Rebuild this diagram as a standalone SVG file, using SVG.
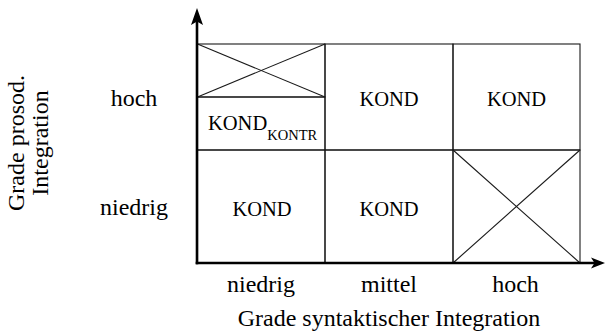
<svg xmlns="http://www.w3.org/2000/svg" width="605" height="333" viewBox="0 0 605 333">
<style>
.cell{fill:none;stroke:#1a1a1a;stroke-width:1.1}
.x{stroke:#1a1a1a;stroke-width:1.1}
text{font-family:"Liberation Serif","Times New Roman",serif;fill:#000}
.t{text-anchor:middle}
.k{font-size:20.5px}
.l{font-size:24px}
.axis{stroke:#000;stroke-width:2.6;fill:none}
</style>
<rect width="605" height="333" fill="#fff"/>
<g id="cell-hoch-niedrig-x">
<rect class="cell" x="197.5" y="44" width="127.5" height="53"/>
<line class="x" x1="197.5" y1="44" x2="325" y2="97"/>
<line class="x" x1="197.5" y1="97" x2="325" y2="44"/>
</g>
<g id="cell-hoch-niedrig">
<rect class="cell" x="197.5" y="97" width="127.5" height="53"/>
<text class="k" x="208" y="130">KOND<tspan font-size="14.5" dy="10">KONTR</tspan></text>
</g>
<g id="cell-hoch-mittel">
<rect class="cell" x="325" y="44" width="128" height="106"/>
<text class="t k" x="389" y="105.5">KOND</text>
</g>
<g id="cell-hoch-hoch">
<rect class="cell" x="453" y="44" width="127" height="106"/>
<text class="t k" x="516.5" y="105.5">KOND</text>
</g>
<g id="cell-niedrig-niedrig">
<rect class="cell" x="197.5" y="150" width="127.5" height="113"/>
<text class="t k" x="262" y="215.5">KOND</text>
</g>
<g id="cell-niedrig-mittel">
<rect class="cell" x="325" y="150" width="128" height="113"/>
<text class="t k" x="389" y="215.5">KOND</text>
</g>
<g id="cell-niedrig-hoch">
<rect class="cell" x="453" y="150" width="127" height="113"/>
<line class="x" x1="453" y1="150" x2="580" y2="263"/>
<line class="x" x1="453" y1="263" x2="580" y2="150"/>
</g>
<g id="connectors">
<line class="axis" x1="197" y1="264.3" x2="197" y2="20"/>
<path d="M197,8 L203,25 L197,21.5 L191,25 Z" fill="#000"/>
<line class="axis" x1="195.7" y1="263" x2="596" y2="263"/>
<path d="M605,263 L591,257.5 L594.5,263 L591,268.5 Z" fill="#000"/>
</g>
<g id="labels">
<text class="t l" x="134" y="106">hoch</text>
<text class="t l" x="134" y="215">niedrig</text>
<text class="t l" x="261" y="291.5">niedrig</text>
<text class="t l" x="389" y="291.5">mittel</text>
<text class="t l" x="515.5" y="291.5">hoch</text>
<text class="t l" x="389" y="325.5">Grade syntaktischer Integration</text>
<text class="t l" transform="translate(23.5,143) rotate(-90)">Grade prosod.</text>
<text class="t l" transform="translate(47.5,143) rotate(-90)">Integration</text>
</g>
</svg>
